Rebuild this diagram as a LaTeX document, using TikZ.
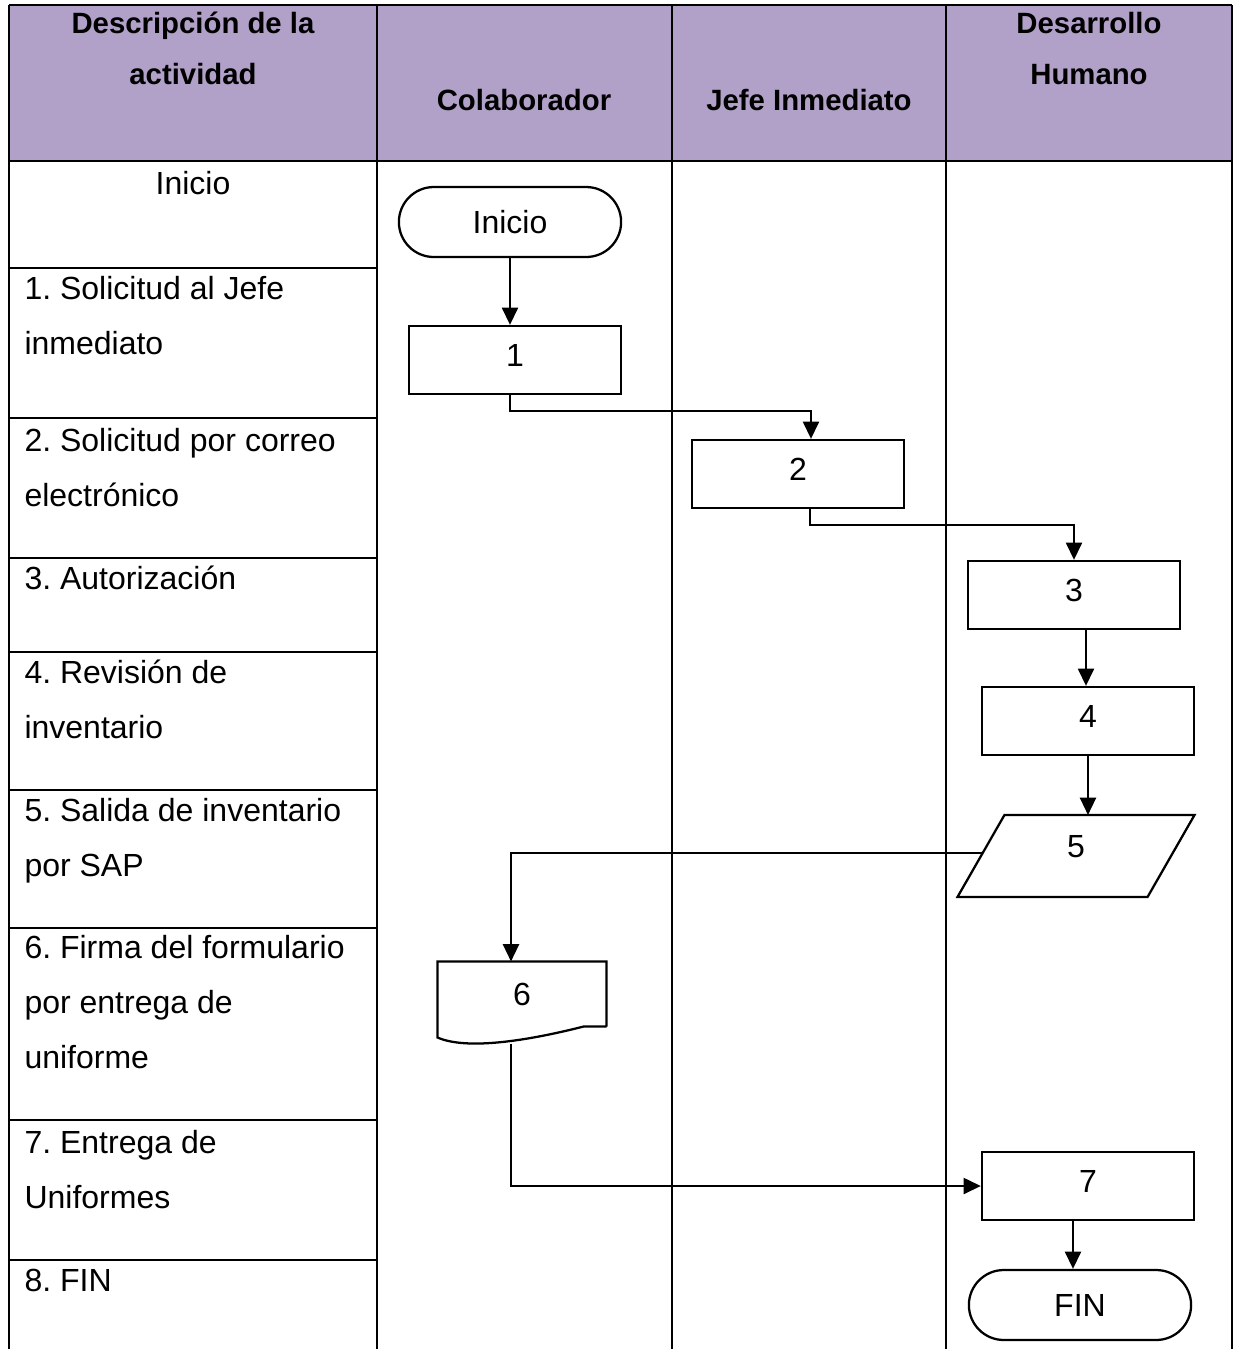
\documentclass[tikz,border=0pt]{standalone}
\usepackage{fontspec}
\setmainfont{Liberation Sans}
\usetikzlibrary{arrows.meta, positioning, shapes.misc}
\definecolor{morado}{HTML}{B1A0C7}
\newcommand{\px}{0.375pt}
\frenchspacing

\begin{document}
\begin{tikzpicture}[x=\px, y=-\px, >={Triangle[length=6.5pt, width=6pt]},
		tabla/.style={line width=1.1pt},
		forma/.style={line width=0.85pt},
		conector/.style={->, line width=0.9pt},
		encabezado/.style={anchor=base, align=center, inner sep=0pt,
			font=\bfseries\fontsize{11}{18.8}\selectfont},
		actividad/.style={anchor=base west, align=left, inner sep=0pt,
			font=\fontsize{12}{20.5}\selectfont},
		caja/.style={rectangle, draw, forma, minimum width=212*\px,
			minimum height=68*\px, text depth=3.5pt, font=\fontsize{12}{14}\selectfont},
		terminal/.style={rounded rectangle, draw, forma, minimum width=240*\px,
			minimum height=70*\px, font=\fontsize{12}{14}\selectfont}]
	
	\useasboundingbox (0,0) rectangle (1234,1349);
	
	% Encabezado de la tabla
	\fill[morado] (9,5) rectangle (1232,161);
	\draw[tabla] (9,5) -- (1232,5);
	\draw[tabla] (9,161) -- (1232,161);
	\foreach \cx in {9,377,672,946,1232}
		\draw[tabla] (\cx,5) -- (\cx,1349);
	\foreach \ry in {268,418,558,652,790,928,1120,1260}
		\draw[tabla] (9,\ry) -- (377,\ry);
	
	% (base = linea de base de la ultima linea)
	\node[encabezado] (hdesc) at (193,84) {Descripción de la\\actividad};
	\node[encabezado] (hcol) at (524,110) {Colaborador};
	\node[encabezado] (hjefe) at (809,110) {Jefe Inmediato};
	\node[encabezado] (hdh) at (1089,84) {Desarrollo\\Humano};
	
	% Descripción de cada actividad
	\node[actividad, anchor=base] (a0) at (193,194) {Inicio};
	\node[actividad] (a1) at (24,354) {1. Solicitud al Jefe\\inmediato};
	\node[actividad] (a2) at (24,506) {2. Solicitud por correo\\electrónico};
	\node[actividad] (a3) at (24,589) {3. Autorización};
	\node[actividad] (a4) at (24,738) {4. Revisión de\\inventario};
	\node[actividad] (a5) at (24,876) {5. Salida de inventario\\por SAP};
	\node[actividad] (a6) at (24,1068) {6. Firma del formulario\\por entrega de\\uniforme};
	\node[actividad] (a7) at (24,1208) {7. Entrega de\\Uniformes};
	\node[actividad] (a8) at (24,1291) {8. FIN};
	
	% Pasos del diagrama
	\node[terminal] (ini) at (510,222) {Inicio};
	\node[caja] (b1) at (515,360) {1};
	\node[caja] (b2) at (798,474) {2};
	\node[caja] (b3) at (1074,595) {3};
	\node[caja] (b4) at (1088,721) {4};
	\node[minimum width=236*\px, minimum height=81*\px, text depth=7.5pt,
		font=\fontsize{12}{14}\selectfont] (p5) at (1076,856) {5};
	\node[minimum width=168*\px, minimum height=64*\px,
		font=\fontsize{12}{14}\selectfont] (d6) at (522,994) {6};
	\node[caja] (b7) at (1088,1186) {7};
	\node[terminal] (fin) at (1080,1305) {FIN};
	
	% Entrada de datos y documento
	\draw[forma] (p5.south west) -- ([xshift=-47*\px]p5.south east) -- (p5.north east)
		-- ([xshift=47*\px]p5.north west) -- cycle;
	\draw[forma] (d6.south east) -- (d6.north east) -- (d6.north west) -- ++(0,76)
		.. controls +(27,12) and +(-63,16) .. ([xshift=-23*\px]d6.south east) -- (d6.south east);
	
	% Conectores
	\draw[conector] (ini.south) -- (ini.south |- b1.north);
	\draw[conector] (ini.south |- b1.south) -- ++(0,16) -| ([xshift=13*\px]b2.north);
	\draw[conector] ([xshift=12*\px]b2.south) -- ++(0,16) -| (b3.north);
	\draw[conector] ([xshift=-2*\px]b4.north |- b3.south) -- ([xshift=-2*\px]b4.north);
	\draw[conector] (b4.south) -- (b4.south |- p5.north);
	\draw[conector] ([xshift=25*\px, yshift=3*\px]p5.west) -| ([xshift=-11*\px]d6.north);
	\draw[conector] ([xshift=-11*\px, yshift=-17*\px]d6.south) |- (b7.west);
	\draw[conector] ([xshift=-7*\px]fin.north |- b7.south) -- ([xshift=-7*\px]fin.north);
	
\end{tikzpicture}
\end{document}
